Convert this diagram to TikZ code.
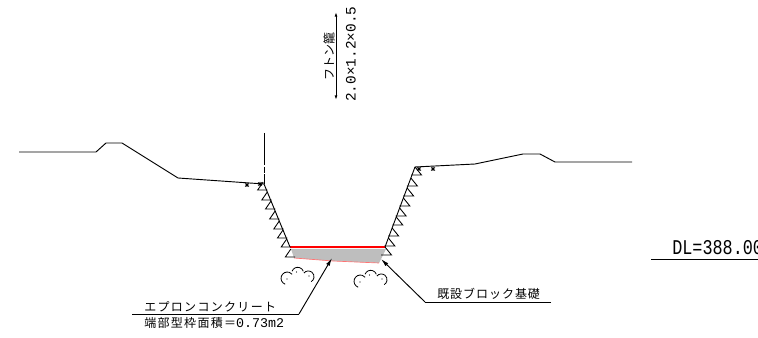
\documentclass[tikz,border=0pt]{standalone}
\usepackage{fontspec}
\newfontfamily\jp{Noto Sans CJK JP}
\newfontfamily\mono{Liberation Mono}
\usetikzlibrary{arrows.meta}
\definecolor{fillgray}{RGB}{190,190,190}
\tikzset{
  x=0.75pt,y=-0.75pt,
  ln/.style={line width=0.7pt,black},
  leader/.style={line width=0.7pt,black,-{Latex[length=6pt,width=3pt]}},
  tooth/.style={line width=0.65pt,black},
  cloud/.style={line width=0.6pt,black},
  txt/.style={inner sep=0pt,anchor=west,font=\jp\fontsize{9pt}{10pt}\selectfont},
}
\begin{document}
\begin{tikzpicture}
\useasboundingbox (0,0) rectangle (758,338);
% gray base
\fill[fillgray] (291,249) -- (386,249) -- (379,263) -- (333,261) -- (294,258) -- cycle;
\draw[red!55,line width=0.5pt] (294,258) -- (333,261) -- (379,263);
% ground and slopes
\coordinate (gl1) at (19,152); \coordinate (gl2) at (96,152); \coordinate (gl3) at (106,143);
\coordinate (gl4) at (122,143); \coordinate (gl5) at (178,178); \coordinate (sl) at (264,184);
\coordinate (bl) at (290,247); \coordinate (br) at (385,247); \coordinate (sr) at (415,167);
\draw[ln] (gl1) -- (gl2) -- (gl3) -- (gl4) -- (gl5) -- (sl) -- (bl);
\draw[ln] (br) -- (sr) -- (475,164) -- (523,154) -- (540,154) -- (555,162) -- (632,162);
\draw[ln] (264,133) -- (264,165.5) (264,167) -- (264,173) (264,174.5) -- (sl);
\draw[red,line width=1.4pt] (bl) -- (br);
% teeth, left
\foreach \b in {190,200,209,219,229,238,247,257}{
  \pgfmathsetmacro{\xt}{264+0.413*(\b-8-184)}
  \pgfmathsetmacro{\xb}{264+0.413*(\b-184)}
  \draw[tooth] (\xt,\b-8) -- (\xt-5.5,\b) -- (\xb+1,\b);
}
% teeth, right
\foreach \b in {175,186,196,206,216,225,236,246,255}{
  \pgfmathsetmacro{\xt}{415-0.375*(\b-8-167)}
  \pgfmathsetmacro{\xb}{415-0.375*(\b-167)}
  \draw[tooth] (\xt,\b-8) -- (\xt+6.5,\b) -- (\xb-1,\b);
}
% small marks
\foreach \x/\y in {247/185,260/184,419/169,433/169}{
  \draw[line width=0.6pt] (\x-2,\y-1.5) -- (\x+2,\y+1.5) (\x-2,\y+1.5) -- (\x+2,\y-1.5) (\x,\y-2) -- (\x,\y+2);
}
% clouds
\foreach \dx/\dy in {0/0,73/3}{
  \begin{scope}[shift={(\dx,\dy)}]
    \draw[cloud] ([shift={(287.3,278.3)}]250:4.7pt) arc[start angle=250,end angle=40,radius=4.7pt];
    \draw[cloud] ([shift={(297.7,273.3)}]160:4.5pt) arc[start angle=160,end angle=20,radius=4.5pt];
    \draw[cloud] ([shift={(308.3,276.7)}]140:4.3pt) arc[start angle=140,end angle=-60,radius=4.3pt];
    \fill (287,279) circle (0.5pt) (296.5,272) circle (0.5pt) (309,276) circle (0.5pt);
  \end{scope}
}
% leaders
\coordinate (la) at (132,314); \coordinate (lb) at (299,314); \coordinate (lc) at (332,258);
\coordinate (ra) at (551,302); \coordinate (rb) at (425,302); \coordinate (rc) at (381,259);
\draw[ln] (la) -- (lb);
\draw[leader] (lb) -- (lc);
\draw[ln] (ra) -- (rb);
\draw[leader] (rb) -- (rc);
\node[txt] (t1) at (144,307) {\addfontfeature{LetterSpace=11}エプロンコンクリート};
\node[txt] (t2) at (144,323) {\addfontfeature{LetterSpace=11}端部型枠面積＝{\mono\fontsize{10pt}{10pt}\selectfont 0.73m2}};
\node[txt] (t3) at (437,294) {\addfontfeature{LetterSpace=8}既設ブロック基礎};
% dimension
\coordinate (da) at (336,12); \coordinate (db) at (336,100);
\draw[line width=0.7pt,{Latex[length=3.5pt,width=2.2pt]}-{Latex[length=3.5pt,width=2.2pt]}] (da) -- (db);
\node[txt,rotate=90,anchor=west] (t4) at (329,81) {フトン籠};
\node[inner sep=0pt,rotate=90,anchor=west] (t5) at (351,102) {\mono\fontsize{10.8pt}{11pt}\selectfont 2.0×1.2×0.5};
% DL
\draw[ln] (651,259) -- (758,259);
\node[inner sep=0pt,anchor=west] (t6) at (672,248) {\scalebox{1}[1.25]{\mono\fontsize{12.6pt}{13pt}\selectfont DL=388.00}};
\end{tikzpicture}
\end{document}
